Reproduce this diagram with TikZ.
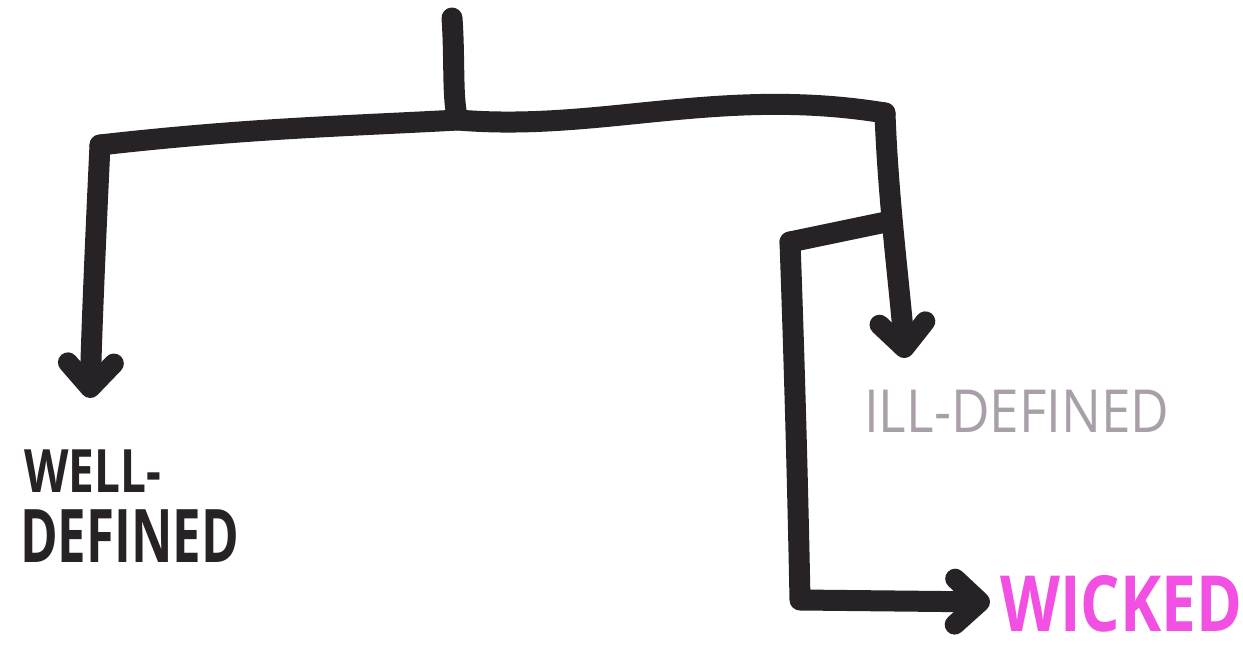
\documentclass[tikz,border=0pt]{standalone}
\usepackage{fontspec}
\setmainfont{Open Sans}
\usetikzlibrary{arrows.meta}
\definecolor{ink}{HTML}{262226}
\definecolor{greyink}{HTML}{A89FA9}
\definecolor{pinkink}{HTML}{F24FE3}
\tikzset{
  marker/.style={draw=ink, line width=21pt, line cap=round, line join=round},
  tip/.style={-{Straight Barb[angle=85:34pt, round, line width=20pt]}},
  lbl/.style={inner sep=0pt, anchor=north west},
}
\begin{document}
\begin{tikzpicture}[x=1pt,y=-1pt]
\useasboundingbox (0,0) rectangle (1243,661);
\fill[white] (0,0) rectangle (1243,661);
\coordinate (top) at (452,18);
\coordinate (J) at (458,120);
\coordinate (L) at (100,145);
\coordinate (R) at (885,113);
\coordinate (B) at (886,222);
\coordinate (C1) at (790,242);
\coordinate (C2) at (800,600);
\coordinate (Lt) at (90,398);
\coordinate (Rt) at (905,358);
\coordinate (Wt) at (990,602);
\draw[marker] (top) .. controls (455,60) and (452,100) .. (J);
\draw[marker] (L) .. controls (250,128) and (350,126) .. (J) .. controls (600,132) and (720,86) .. (R);
\draw[marker,tip] (L) .. controls (96,230) and (92,320) .. (Lt);
\draw[marker,tip] (R) .. controls (888,200) and (900,290) .. (Rt);
\draw[marker] (B) -- (C1);
\draw[marker,tip] (C1) .. controls (795,380) and (798,500) .. (C2) -- (Wt);
\node[lbl, text=ink, font=\bfseries\fontsize{46}{50}\selectfont] (wd1) at (24,450) {\scalebox{1}[1.3]{WELL-}};
\node[lbl, text=ink, font=\bfseries\fontsize{51}{56}\selectfont] (wd2) at (20,510) {\scalebox{1}[1.45]{DEFINED}};
\node[lbl, text=greyink, font=\fontsize{53}{58}\selectfont] (ill) at (864,390) {\scalebox{1}[1.12]{ILL-DEFINED}};
\node[lbl, text=pinkink, font=\bfseries\fontsize{62}{70}\selectfont] (wk) at (1000,575) {\scalebox{1}[1.25]{WICKED}};
\end{tikzpicture}
\end{document}
